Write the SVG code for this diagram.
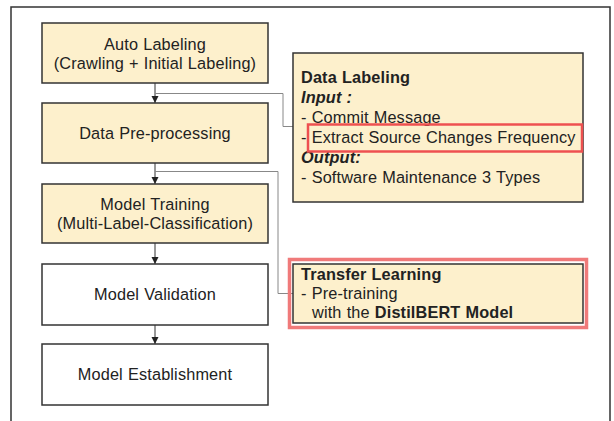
<svg xmlns="http://www.w3.org/2000/svg" width="614" height="421" viewBox="0 0 614 421">
<style>
.box{fill:#fdf0cc;stroke:#333;stroke-width:1.5}
.wbox{fill:#fff;stroke:#333;stroke-width:1.5}
.t{font-family:"Liberation Sans",Arial,sans-serif;font-size:16.3px;fill:#222;letter-spacing:0.15px;word-spacing:0.4px}
.c{text-anchor:middle}
.b{font-weight:bold}
.i{font-style:italic;font-weight:bold}
.conn{fill:none;stroke:#333;stroke-width:1}
.gconn{fill:none;stroke:#888;stroke-width:1}
</style>
<defs>
<marker id="ah" markerWidth="8" markerHeight="8" refX="7" refY="4" orient="auto" markerUnits="userSpaceOnUse">
<path d="M0,0.5 L7,4 L0,7.5 Z" fill="#222"/>
</marker>
</defs>
<rect x="0" y="0" width="614" height="421" fill="#fff"/>
<path d="M11,421 V7 H610 V421" fill="none" stroke="#333" stroke-width="1.5"/>
<g id="connectors">
<line class="conn" x1="155" y1="83" x2="155" y2="103" marker-end="url(#ah)"/>
<line class="conn" x1="155" y1="163" x2="155" y2="184" marker-end="url(#ah)"/>
<line class="conn" x1="155" y1="243" x2="155" y2="264" marker-end="url(#ah)"/>
<line class="conn" x1="155" y1="325" x2="155" y2="344" marker-end="url(#ah)"/>
<path class="gconn" d="M155,93.5 H283 V126.5 H293"/>
<path class="gconn" d="M155,171.5 H278 V293.5 H293"/>
</g>
<g id="auto-labeling">
<rect class="box" x="42" y="23" width="226" height="60"/>
<text class="t c" x="155" y="50">Auto Labeling</text>
<text class="t c" x="155" y="69">(Crawling + Initial Labeling)</text>
</g>
<g id="data-preprocessing">
<rect class="box" x="42" y="103" width="226" height="60"/>
<text class="t c" x="155" y="139">Data Pre-processing</text>
</g>
<g id="model-training">
<rect class="box" x="42" y="184" width="226" height="59"/>
<text class="t c" x="155" y="210">Model Training</text>
<text class="t c" x="155" y="229">(Multi-Label-Classification)</text>
</g>
<g id="model-validation">
<rect class="wbox" x="42" y="264" width="226" height="61"/>
<text class="t c" x="155" y="300">Model Validation</text>
</g>
<g id="model-establishment">
<rect class="wbox" x="42" y="344" width="226" height="61"/>
<text class="t c" x="155" y="380">Model Establishment</text>
</g>
<g id="data-labeling">
<rect class="box" x="293" y="53" width="290" height="149"/>
<text class="t b" x="301" y="83">Data Labeling</text>
<text class="t i" x="301" y="103">Input :</text>
<text class="t" x="301" y="123">- Commit Message</text>
<text class="t" x="301" y="143">- Extract Source Changes Frequency</text>
<text class="t i" x="301" y="163">Output:</text>
<text class="t" x="301" y="183">- Software Maintenance 3 Types</text>
<rect x="308" y="124.5" width="274" height="27" fill="none" stroke="#ee5050" stroke-width="2.5"/>
</g>
<g id="transfer-learning">
<rect x="289.5" y="259.5" width="297" height="68" fill="none" stroke="#f07a7a" stroke-width="3.5"/>
<rect class="box" x="293" y="264" width="290" height="59"/>
<text class="t b" x="301" y="280">Transfer Learning</text>
<text class="t" x="301" y="299">- Pre-training</text>
<text class="t" x="312" y="318">with the <tspan class="b">DistilBERT Model</tspan></text>
</g>
</svg>
